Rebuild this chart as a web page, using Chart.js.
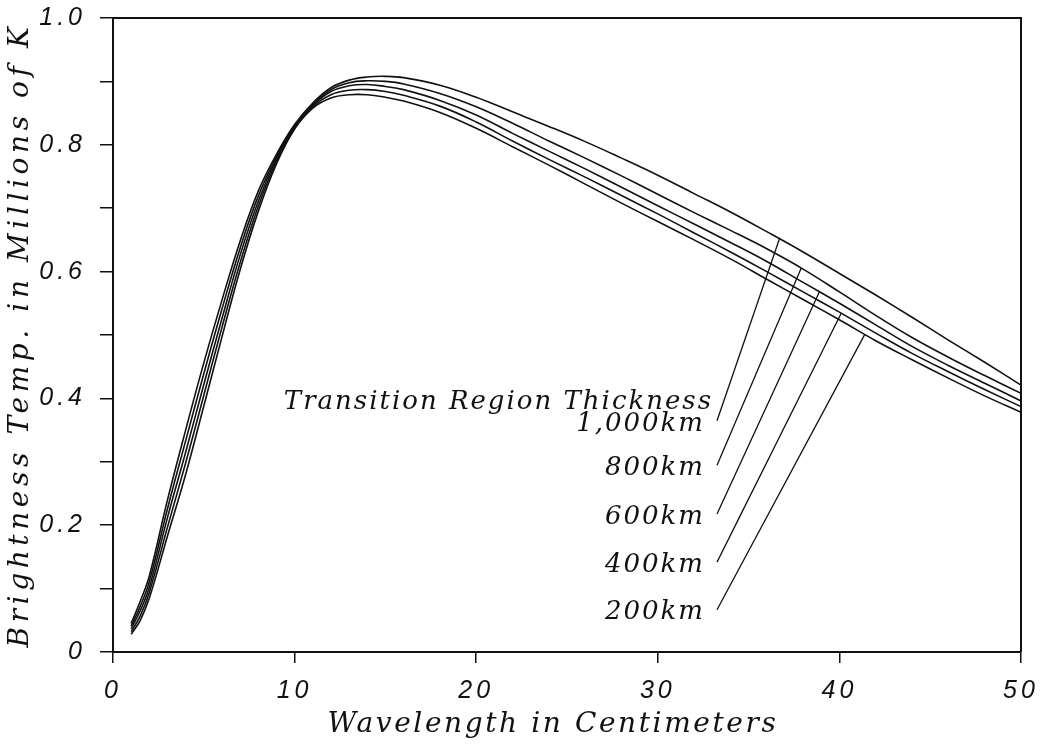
<!DOCTYPE html>
<html>
<head>
<meta charset="utf-8">
<script src="https://cdn.jsdelivr.net/npm/chart.js@4.4.1/dist/chart.umd.min.js"></script>
<style>
  html, body { margin: 0; padding: 0; background: #fff; }
  #wrap { width: 1048px; height: 745px; position: relative; }
</style>
</head>
<body>
<div id="wrap"><canvas id="chart"></canvas></div>
<script>
// wavelength in cm
const wavelength = [1, 1.5, 2, 3, 4, 5, 6, 7, 8, 9, 10, 11, 12, 13, 14, 15, 16, 18, 20,
    22, 24, 26, 28, 30, 32, 34, 36, 38, 40, 42, 44, 46, 48, 50];

// brightness temperature (millions of K), one array per transition region thickness
const temp1000 = [0.045, 0.080, 0.120, 0.240, 0.350, 0.456, 0.555, 0.648, 0.727, 0.785, 0.832, 0.866, 0.890, 0.902, 0.907, 0.908, 0.906, 0.894, 0.875,
    0.852, 0.829, 0.805, 0.779, 0.752, 0.723, 0.694, 0.663, 0.631, 0.597, 0.563, 0.528, 0.492, 0.457, 0.421];
const temp800 = [0.041, 0.072, 0.111, 0.226, 0.333, 0.439, 0.541, 0.637, 0.719, 0.781, 0.830, 0.864, 0.887, 0.898, 0.901, 0.900, 0.896, 0.881, 0.860,
    0.834, 0.806, 0.779, 0.751, 0.722, 0.693, 0.665, 0.636, 0.604, 0.568, 0.531, 0.496, 0.465, 0.436, 0.408];
const temp600 = [0.037, 0.065, 0.102, 0.212, 0.315, 0.422, 0.526, 0.626, 0.711, 0.778, 0.829, 0.862, 0.884, 0.893, 0.895, 0.892, 0.887, 0.870, 0.847,
    0.818, 0.790, 0.762, 0.733, 0.704, 0.675, 0.646, 0.616, 0.583, 0.550, 0.516, 0.482, 0.452, 0.424, 0.396];
const temp400 = [0.032, 0.057, 0.094, 0.197, 0.298, 0.405, 0.512, 0.614, 0.703, 0.774, 0.827, 0.860, 0.879, 0.886, 0.887, 0.884, 0.878, 0.861, 0.836,
    0.806, 0.777, 0.749, 0.720, 0.691, 0.661, 0.631, 0.600, 0.568, 0.536, 0.503, 0.471, 0.442, 0.414, 0.387];
const temp200 = [0.028, 0.050, 0.085, 0.183, 0.280, 0.388, 0.497, 0.603, 0.695, 0.770, 0.825, 0.858, 0.874, 0.879, 0.879, 0.875, 0.869, 0.851, 0.826,
    0.797, 0.768, 0.738, 0.708, 0.679, 0.650, 0.620, 0.588, 0.556, 0.524, 0.491, 0.461, 0.432, 0.404, 0.378];

const seriesLabels = ["1,000km", "800km", "600km", "400km", "200km"];
const annotationTitle = "Transition Region Thickness";
// where the label block sits (data units) and where each leader meets its curve
const labelRightX = 32.6;
const titleY = 0.394;
const labelY = [0.360, 0.290, 0.213, 0.137, 0.062];
const leaderX = [36.7, 37.9, 38.9, 40.1, 41.4];

const allSeries = [temp1000, temp800, temp600, temp400, temp200];

const serifFont = '"DejaVu Serif", serif';
const sansFont = '"Liberation Sans", Arial, sans-serif';

function curveValueAt(values, x) {
    for (let i = 0; i < wavelength.length - 1; i++) {
        if (x >= wavelength[i] && x <= wavelength[i + 1]) {
            let f = (x - wavelength[i]) / (wavelength[i + 1] - wavelength[i]);
            return values[i] + f * (values[i + 1] - values[i]);
        }
    }
    return values[values.length - 1];
}

// per-scale letter spacing (and a small nudge) for the axis titles
function wrapTitle(scale, spacing, dx) {
    if (scale._spacedTitle) return;
    const orig = scale.drawTitle;
    scale.drawTitle = function () {
        const c = this.ctx;
        const prev = c.letterSpacing;
        c.save();
        c.translate(dx, 0);
        c.letterSpacing = spacing;
        orig.call(this);
        c.restore();
        c.letterSpacing = prev;
    };
    scale._spacedTitle = true;
}

const spacingPlugin = {
    id: 'spacing',
    beforeUpdate(chart) { chart.ctx.letterSpacing = '4px'; },
    beforeDraw(chart) {
        chart.ctx.letterSpacing = '4px';
        wrapTitle(chart.scales.x, '2.6px', -14);
        wrapTitle(chart.scales.y, '4.6px', 0);
    }
};

const framePlugin = {
    id: 'frame',
    afterDraw(chart) {
        const ctx = chart.ctx;
        const area = chart.chartArea;
        const xs = chart.scales.x;
        const ys = chart.scales.y;
        ctx.save();
        ctx.strokeStyle = '#111';
        ctx.lineWidth = 2;
        ctx.beginPath();
        ctx.moveTo(area.left, area.top);
        ctx.lineTo(area.right, area.top);
        ctx.lineTo(area.right, area.bottom);
        ctx.stroke();

        // annotation block
        ctx.fillStyle = '#111';
        ctx.letterSpacing = '2px';
        ctx.font = 'italic 26px ' + serifFont;
        ctx.textAlign = 'right';
        ctx.textBaseline = 'middle';
        ctx.fillText(annotationTitle, xs.getPixelForValue(labelRightX) + 8, ys.getPixelForValue(titleY));
        ctx.lineWidth = 1.3;
        seriesLabels.forEach((lbl, i) => {
            let tx = xs.getPixelForValue(labelRightX);
            let ty = ys.getPixelForValue(labelY[i]);
            ctx.fillText(lbl, tx, ty);
            let ex = xs.getPixelForValue(leaderX[i]);
            let ey = ys.getPixelForValue(curveValueAt(allSeries[i], leaderX[i]));
            ctx.beginPath();
            ctx.moveTo(tx + 12, ty - 3);
            ctx.lineTo(ex, ey);
            ctx.stroke();
        });
        ctx.restore();
    }
};

const datasets = allSeries.map((vals, i) => ({
    label: seriesLabels[i],
    data: wavelength.map((w, j) => ({ x: w, y: vals[j] })),
    borderColor: '#111',
    borderWidth: 1.6,
    pointRadius: 0,
    fill: false,
    tension: 0.4
}));

new Chart(document.getElementById('chart'), {
    type: 'line',
    data: { datasets: datasets },
    plugins: [spacingPlugin, framePlugin],
    options: {
        responsive: true,
        maintainAspectRatio: false,
        animation: false,
        layout: { padding: { left: 0, top: 18, right: 27, bottom: 0 } },
        plugins: {
            legend: { display: false },
            tooltip: { enabled: false }
        },
        scales: {
            x: {
                type: 'linear',
                min: 0,
                max: 50,
                afterFit: (scale) => {
                    scale.height = 93;
                    scale.paddingLeft = 0;
                    scale.paddingRight = 0;
                },
                border: { display: true, color: '#111', width: 2 },
                grid: { drawOnChartArea: false, drawTicks: true, tickLength: 11, color: '#111', lineWidth: 1.5 },
                ticks: {
                    stepSize: 10,
                    padding: 13,
                    color: '#111',
                    maxRotation: 0,
                    font: { family: sansFont, size: 25, style: 'italic' }
                },
                title: {
                    display: true,
                    text: 'Wavelength in Centimeters',
                    color: '#111',
                    padding: { top: 0, bottom: 3 },
                    font: { family: serifFont, size: 28, style: 'italic' }
                }
            },
            y: {
                type: 'linear',
                min: 0,
                max: 1,
                afterFit: (scale) => {
                    scale.width = 113;
                    scale.paddingTop = 0;
                    scale.paddingBottom = 0;
                },
                border: { display: true, color: '#111', width: 2 },
                grid: { drawOnChartArea: false, drawTicks: true, tickLength: 13, color: '#111', lineWidth: 1.5 },
                ticks: {
                    stepSize: 0.1,
                    padding: 14,
                    color: '#111',
                    font: { family: sansFont, size: 25, style: 'italic' },
                    callback: function (value) {
                        let v = Math.round(value * 10);
                        if (v % 2 != 0) return '';
                        if (v == 0) return '0';
                        return (v / 10).toFixed(1);
                    }
                },
                title: {
                    display: true,
                    text: 'Brightness Temp. in Millions of K',
                    color: '#111',
                    padding: { top: 4, bottom: 0 },
                    font: { family: serifFont, size: 28, style: 'italic' }
                }
            }
        }
    }
});
</script>
</body>
</html>
